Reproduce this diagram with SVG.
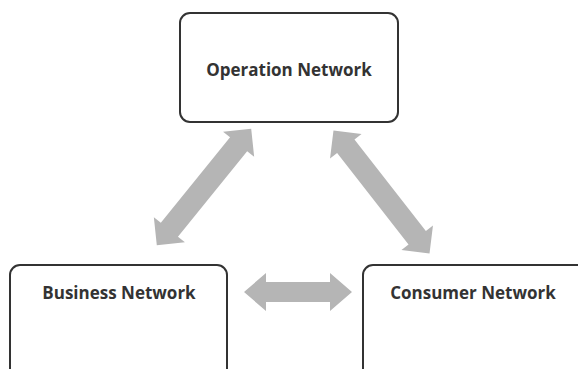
<svg xmlns="http://www.w3.org/2000/svg" width="578" height="369" viewBox="0 0 578 369">
<style>
.box{fill:#fff;stroke:#333;stroke-width:2}
.lbl{font-family:"Open Sans","Liberation Sans",sans-serif;font-weight:bold;font-size:17px;fill:#333;text-anchor:middle}
.arr{fill:#b5b5b5}
</style>
<rect width="578" height="369" fill="#fff"/>
<g id="connectors" class="arr">
<path transform="translate(204,187) rotate(-51)" d="M-75,0 L-55,-20 L-55,-11 L55,-11 L55,-20 L75,0 L55,20 L55,11 L-55,11 L-55,20 Z"/>
<path transform="translate(381.5,192) rotate(52)" d="M-78,0 L-58,-20 L-58,-11 L58,-11 L58,-20 L78,0 L58,20 L58,11 L-58,11 L-58,20 Z"/>
<path transform="translate(298,292)" d="M-54,0 L-32,-19 L-32,-10 L32,-10 L32,-19 L54,0 L32,19 L32,10 L-32,10 L-32,19 Z"/>
</g>
<g id="operation">
<rect class="box" x="180" y="13" width="218" height="109" rx="10"/>
<text class="lbl" x="289" y="76">Operation Network</text>
</g>
<g id="business">
<rect class="box" x="10" y="265" width="217" height="120" rx="10"/>
<text class="lbl" x="119" y="299">Business Network</text>
</g>
<g id="consumer">
<rect class="box" x="363" y="265" width="230" height="120" rx="10"/>
<text class="lbl" x="473" y="299">Consumer Network</text>
</g>
</svg>
